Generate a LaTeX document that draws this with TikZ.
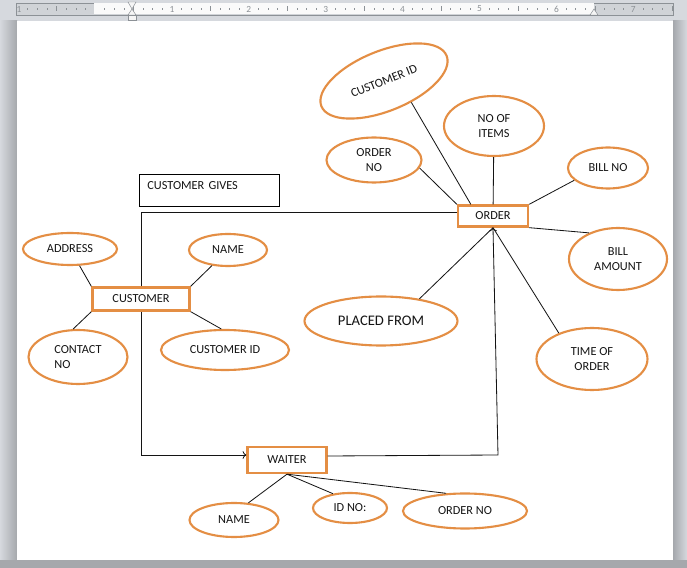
\documentclass[tikz,border=0pt]{standalone}
\usepackage{fontspec}
\setmainfont{Carlito}
\usepackage{xcolor}
\usetikzlibrary{arrows,shapes,positioning,arrows.meta,calc}
\definecolor{erorange}{RGB}{228,142,68}
\definecolor{wingray}{RGB}{214,217,222}
\definecolor{sidegray}{RGB}{165,168,172}
\definecolor{rulergray}{RGB}{208,211,215}
\definecolor{rulerline}{RGB}{140,145,150}
\definecolor{inkgray}{RGB}{20,20,20}

\begin{document}
\begin{tikzpicture}[x=0.03cm,y=-0.03cm,
        attr/.style={draw=erorange,line width=1.8pt,ellipse,inner sep=0pt,align=center,
            text=inkgray,font=\fontsize{10.5}{13}\selectfont},
        entity/.style={draw=erorange,line width=2pt,rectangle,inner sep=0pt,
            text=inkgray,font=\fontsize{10.5}{13}\selectfont},
        givesbox/.style={draw,line width=0.7pt,rectangle,anchor=north west,align=left,
            text width=3.72cm,inner xsep=0.24cm,inner ysep=0.21cm,text depth=0.3cm,
            text=inkgray,font=\fontsize{10.5}{13}\selectfont},
        rulernum/.style={inner sep=0pt,text=rulerline,font=\fontsize{8}{9}\selectfont},
        link/.style={line width=0.7pt,draw=inkgray}]
        \useasboundingbox (0,0) rectangle (687,568);

        % Window and page
        \fill[wingray] (0,0) rectangle (687,568);
        \shade[left color=wingray,right color=sidegray] (0,21) rectangle (17,560);
        \shade[left color=sidegray,right color=wingray] (673,21) rectangle (687,560);
        \fill[sidegray] (0,560) rectangle (687,568);
        \fill[white] (17,21) rectangle (673,560);

        % Ruler
        \draw[rulerline,fill=rulergray] (16,3) rectangle (673,15);
        \fill[white!96!gray] (94,3.5) rectangle (594,14.5);
        \foreach \t in {-7,...,60} {
            \pgfmathtruncatemacro{\m}{mod(\t+16,8)}
            \ifnum\m=0\relax\else
                \ifnum\m=4
                    \draw[rulerline] ({95+9.6125*\t},6.5) -- ++(0,5);
                \else
                    \draw[rulerline] ({95+9.6125*\t},8.5) -- ++(0,1.2);
                \fi
            \fi
        }
        \node[rulernum] (r0) at (19,9) {1};
        \foreach \n in {1,...,7} {
            \node[rulernum] (r\n) at ({95+76.9*\n},9) {\n};
        }
        \filldraw[draw=rulerline,fill=white!92!gray] (128,2) -- (136,2) -- (132,9) -- cycle;
        \filldraw[draw=rulerline,fill=white!92!gray] (132,9) -- (136,15) -- (128,15) -- cycle;
        \filldraw[draw=rulerline,fill=white!92!gray] (128,15) rectangle (136,20);
        \filldraw[draw=rulerline,fill=white!92!gray] (594,9) -- (598,15) -- (590,15) -- cycle;

        % Entities
        \node[entity,minimum width=2.91cm,minimum height=0.69cm] (cust) at (141,299) {CUSTOMER};
        \node[entity,minimum width=2.1cm,minimum height=0.63cm] (order) at (493,216) {ORDER};
        \node[entity,minimum width=2.37cm,minimum height=0.78cm] (waiter) at (287,460) {WAITER};

        \node[givesbox] (gives) at (139,174) {CUSTOMER GIVES};

        % Customer attributes
        \node[attr,minimum width=2.82cm,minimum height=0.96cm] (addr) at (70,249) {ADDRESS};
        \node[attr,minimum width=2.34cm,minimum height=0.96cm] (cname) at (228,250) {NAME};
        \node[attr,minimum width=2.97cm,minimum height=1.62cm,align=left] (contact) at (78,357) {CONTACT\\NO};
        \node[attr,minimum width=3.84cm,minimum height=1.2cm] (custid) at (225,350) {CUSTOMER ID};

        % Order attributes
        \node[attr,rotate=22,minimum width=4.05cm,minimum height=1.8cm] (ocustid) at (384,81) {CUSTOMER ID};
        \node[attr,minimum width=3cm,minimum height=1.8cm] (noitems) at (494,126) {NO OF\\ITEMS};
        \node[attr,minimum width=2.85cm,minimum height=1.35cm] (ordno) at (374,160) {ORDER\\NO};
        \node[attr,minimum width=2.4cm,minimum height=1.23cm] (billno) at (608,168) {BILL NO};
        \node[attr,minimum width=2.94cm,minimum height=1.86cm] (billamt) at (618,259) {BILL\\AMOUNT};
        \node[attr,minimum width=4.59cm,minimum height=1.47cm,font=\fontsize{12.5}{15}\selectfont] (placed) at (381,321) {PLACED FROM};
        \node[attr,minimum width=3.33cm,minimum height=1.86cm] (timeord) at (592,359) {TIME OF\\ORDER};

        % Waiter attributes
        \node[attr,minimum width=2.67cm,minimum height=1.02cm] (wname) at (234,520) {NAME};
        \node[attr,minimum width=2.22cm,minimum height=0.9cm] (idno) at (350,508) {ID NO:};
        \node[attr,minimum width=3.72cm,minimum height=1.05cm] (wordno) at (465,511) {ORDER NO};

        % Links
        \draw[link] (addr) -- (cust.north west);
        \draw[link] (cname) -- (cust.north east);
        \draw[link] (contact.100) -- (cust.south west);
        \draw[link] (custid.100) -- (cust.south east);
        \draw[link] (cust.north) |- ([yshift=0.12cm]order.west);
        \draw[link,->] (cust.south) |- ([yshift=0.15cm]waiter.west);
        \coordinate (turn) at (498,455);
        \draw[link,->] ([yshift=0.12cm]waiter.east) -- (turn) -- (order.south);
        \draw[link] (placed.30) -- (order.south);
        \draw[link] (timeord.142) -- (order.south);
        \draw[link] (noitems) -- (order);
        \draw[link] (ordno.-10) -- (order.north west);
        \draw[link] (ocustid.-60) -- ([xshift=0.42cm]order.north west);
        \draw[link] (billno.200) -- (order.north east);
        \draw[link] (billamt.138) -- (order.south east);
        \draw[link] (wname.50) -- (waiter.south);
        \draw[link] (idno.140) -- (waiter.south);
        \draw[link] (wordno.137) -- (waiter.south);
    \end{tikzpicture}
\end{document}
